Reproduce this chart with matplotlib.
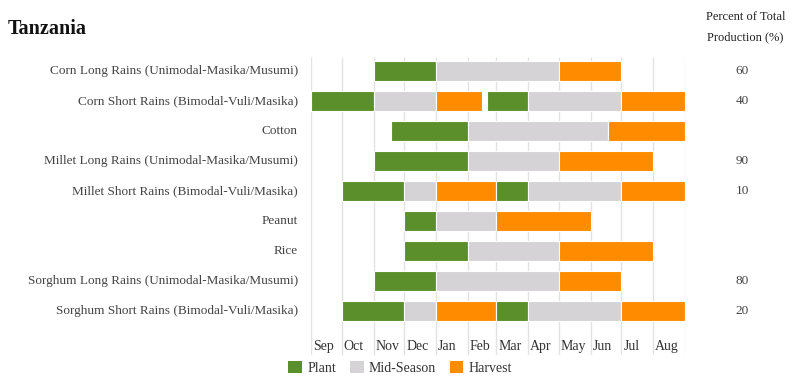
import matplotlib
matplotlib.use("Agg")
import matplotlib.pyplot as plt
from matplotlib.patches import Patch

plt.rcParams['font.family'] = ['Liberation Serif', 'DejaVu Serif']

title = "Tanzania"
months = ["Sep", "Oct", "Nov", "Dec", "Jan", "Feb", "Mar", "Apr", "May", "Jun", "Jul", "Aug"]
month_days = [30, 31, 30, 31, 31, 28, 31, 30, 31, 30, 31, 31]

crops = [
    "Corn Long Rains (Unimodal-Masika/Musumi)",
    "Corn Short Rains (Bimodal-Vuli/Masika)",
    "Cotton",
    "Millet Long Rains (Unimodal-Masika/Musumi)",
    "Millet Short Rains (Bimodal-Vuli/Masika)",
    "Peanut",
    "Rice",
    "Sorghum Long Rains (Unimodal-Masika/Musumi)",
    "Sorghum Short Rains (Bimodal-Vuli/Masika)",
]
percent = ["60", "40", "", "90", "10", "", "", "80", "20"]

phases = ["Plant", "Mid-Season", "Harvest"]
phase_colors = {"Plant": "#5b8f2b", "Mid-Season": "#d5d3d5", "Harvest": "#ff8c00"}

# (phase, first day, last day) -- inclusive dates
segments = [
    [("Plant", "Nov 1", "Dec 31"), ("Mid-Season", "Jan 1", "Apr 30"), ("Harvest", "May 1", "Jun 30")],
    [("Plant", "Sep 1", "Oct 31"), ("Mid-Season", "Nov 1", "Dec 31"), ("Harvest", "Jan 1", "Feb 14"),
     ("Plant", "Feb 20", "Mar 31"), ("Mid-Season", "Apr 1", "Jun 30"), ("Harvest", "Jul 1", "Aug 31")],
    [("Plant", "Nov 18", "Jan 31"), ("Mid-Season", "Feb 1", "Jun 17"), ("Harvest", "Jun 18", "Aug 31")],
    [("Plant", "Nov 1", "Jan 31"), ("Mid-Season", "Feb 1", "Apr 30"), ("Harvest", "May 1", "Jul 31")],
    [("Plant", "Oct 1", "Nov 30"), ("Mid-Season", "Dec 1", "Dec 31"), ("Harvest", "Jan 1", "Feb 28"),
     ("Plant", "Mar 1", "Mar 31"), ("Mid-Season", "Apr 1", "Jun 30"), ("Harvest", "Jul 1", "Aug 31")],
    [("Plant", "Dec 1", "Dec 31"), ("Mid-Season", "Jan 1", "Feb 28"), ("Harvest", "Mar 1", "May 31")],
    [("Plant", "Dec 1", "Jan 31"), ("Mid-Season", "Feb 1", "Apr 30"), ("Harvest", "May 1", "Jul 31")],
    [("Plant", "Nov 1", "Dec 31"), ("Mid-Season", "Jan 1", "Apr 30"), ("Harvest", "May 1", "Jun 30")],
    [("Plant", "Oct 1", "Nov 30"), ("Mid-Season", "Dec 1", "Dec 31"), ("Harvest", "Jan 1", "Feb 28"),
     ("Plant", "Mar 1", "Mar 31"), ("Mid-Season", "Apr 1", "Jun 30"), ("Harvest", "Jul 1", "Aug 31")],
]

month_start = {}
acc = 0
for m, d in zip(months, month_days):
    month_start[m] = acc
    acc += d
total_days = acc


def day(s):
    m, d = s.split()
    return month_start[m] + int(d) - 1


W, H = 792, 391
fig = plt.figure(figsize=(W / 100, H / 100), dpi=100)
ax = fig.add_axes([311 / W, 1 - 355 / H, (685 - 311) / W, (355 - 57) / H])
ax.set_xlim(0, total_days)
ax.set_ylim(9.467, -0.467)
ax.axis("off")

# month gridlines
bounds = [month_start[m] for m in months] + [total_days]
ax.vlines(bounds, -0.467, 9.467, colors="#e2e2e2", linewidth=1, zorder=0)

for i, segs in enumerate(segments):
    for ph, s, e in segs:
        a = day(s)
        b = day(e) + 1
        ax.barh(i, b - a, left=a, height=0.65, color=phase_colors[ph],
                edgecolor="white", linewidth=0.8, zorder=2)

px_day = total_days / (685 - 311)
for m in months:
    ax.text(month_start[m] + 2 * px_day, 9.2, m, ha="left", va="center",
            fontsize=10, color="#333333")

for i, (c, p) in enumerate(zip(crops, percent)):
    ax.text(-13 / 374, i, c, transform=ax.get_yaxis_transform(), ha="right",
            va="center", fontsize=9.5, color="#444444")
    if p:
        ax.text((742 - 311) / 374, i, p, transform=ax.get_yaxis_transform(),
                ha="center", va="center", fontsize=9.5, color="#444444")

fig.text(8 / W, 1 - 29 / H, title, ha="left", va="center", fontsize=14.5,
         fontweight="bold", color="#111111")
fig.text(745.5 / W, 1 - 17 / H, "Percent of Total", ha="center", va="center",
         fontsize=9, color="#222222")
fig.text(745.5 / W, 1 - 37 / H, "Production (%)", ha="center", va="center",
         fontsize=9, color="#222222")

handles = [Patch(facecolor=phase_colors[p], edgecolor="none") for p in phases]
fig.legend(handles, phases, loc="center", bbox_to_anchor=(400 / W, 1 - 368 / H),
           ncol=3, frameon=False, fontsize=10, handlelength=1.0, handleheight=1.0,
           handletextpad=0.35, columnspacing=1.0, labelcolor="#333333")

fig.savefig("out.png", dpi=100)
